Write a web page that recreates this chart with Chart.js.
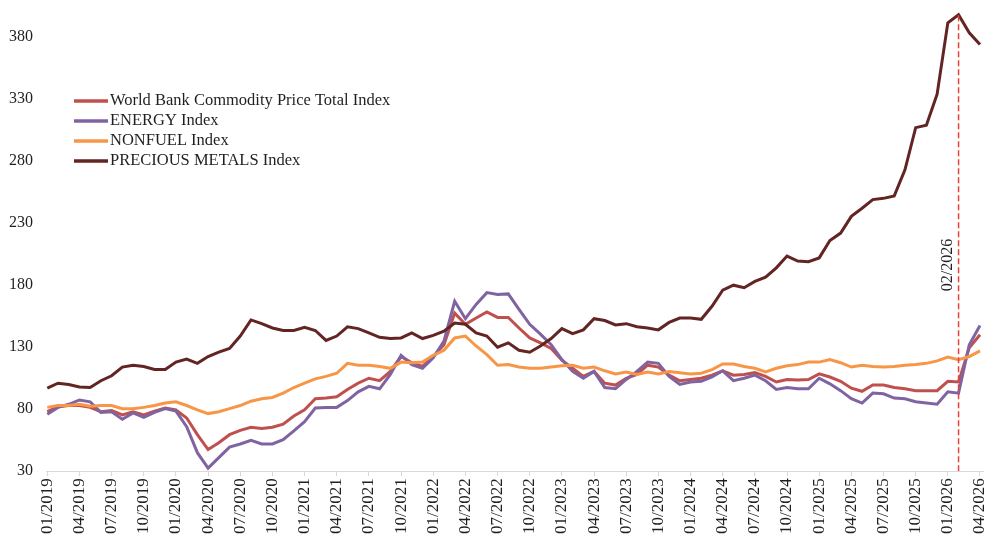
<!DOCTYPE html>
<html lang="en">
<head>
<meta charset="utf-8">
<title>World Bank Commodity Price Indices</title>
<script src="https://cdn.jsdelivr.net/npm/chart.js@4.4.1/dist/chart.umd.min.js"></script>
<style>
    html, body { margin: 0; padding: 0; background: #fff; }
</style>
</head>
<body>
<canvas id="grafico" width="1004" height="547"></canvas>
<script>
// Meses (categorías del eje X)
const meses = [
    "01/2019", "02/2019", "03/2019", "04/2019", "05/2019", "06/2019", "07/2019", "08/2019", "09/2019", "10/2019", "11/2019", "12/2019",
    "01/2020", "02/2020", "03/2020", "04/2020", "05/2020", "06/2020", "07/2020", "08/2020", "09/2020", "10/2020", "11/2020", "12/2020",
    "01/2021", "02/2021", "03/2021", "04/2021", "05/2021", "06/2021", "07/2021", "08/2021", "09/2021", "10/2021", "11/2021", "12/2021",
    "01/2022", "02/2022", "03/2022", "04/2022", "05/2022", "06/2022", "07/2022", "08/2022", "09/2022", "10/2022", "11/2022", "12/2022",
    "01/2023", "02/2023", "03/2023", "04/2023", "05/2023", "06/2023", "07/2023", "08/2023", "09/2023", "10/2023", "11/2023", "12/2023",
    "01/2024", "02/2024", "03/2024", "04/2024", "05/2024", "06/2024", "07/2024", "08/2024", "09/2024", "10/2024", "11/2024", "12/2024",
    "01/2025", "02/2025", "03/2025", "04/2025", "05/2025", "06/2025", "07/2025", "08/2025", "09/2025", "10/2025", "11/2025", "12/2025",
    "01/2026", "02/2026", "03/2026", "04/2026"
];

const indiceTotal = [
    78, 82, 83, 83, 81.5, 78, 79, 75.5, 78, 75.5, 78.5, 81,
    79.5, 73, 59.5, 47.5, 53, 59.5, 63, 65.5, 64.5, 65.5, 68, 74.5,
    79.5, 88.5, 89, 90, 96, 101, 105, 103, 110.5, 122.5, 117.5, 114.5,
    122.5, 132, 157.5, 148.5, 153.5, 158.5, 154, 154, 145.5, 137.5, 133.5, 129,
    119.5, 113, 106.5, 110.5, 101, 99.5, 105, 108, 115.5, 114, 107.5, 103,
    104, 105, 107.5, 111, 107.5, 108, 109.5, 106.5, 102, 104, 103.5, 104,
    108.5, 106, 102.5, 97, 94.5, 99.5, 99.5, 97.5, 96.5, 95, 95, 95,
    102.5, 102, 129.5, 140
];

const indiceEnergia = [
    76, 81.5, 84, 87.5, 86, 77.5, 78, 72, 77, 73.5, 77.5, 80.5,
    78.5, 66, 45, 32.5, 41, 49.5, 52, 55, 52, 52, 55.5, 62.5,
    70, 81, 81.5, 81.5, 87, 94, 98.5, 96.5, 108, 123.5, 116, 113,
    121.5, 135, 167, 153, 164.5, 174, 172.5, 173, 160.5, 148.5, 140.5, 132,
    120, 110.5, 105, 110.5, 97.5, 96.5, 104, 110.5, 118, 117, 106.5, 100,
    102, 102.5, 106, 111, 103, 105, 107.5, 103, 96, 97.5, 96.5, 96.5,
    105, 100.5, 95, 88.5, 85, 93, 92.5, 89, 88.5, 86, 85, 84,
    94, 93, 132, 147.5
];

const indiceNoEnergetico = [
    81.5, 83, 83, 84, 82.5, 83, 83, 80.5, 80.5, 81.5, 83, 85,
    86, 83, 79.5, 76.5, 78, 80.5, 83, 86.5, 88.5, 89.5, 93, 97.5,
    101, 104.5, 106.5, 109, 117, 115.5, 115.5, 114.5, 113, 118, 117.5, 118,
    123.5, 127.5, 137.5, 139, 131, 124, 115.5, 116, 114, 113, 113, 114,
    115, 115.5, 113, 114, 111, 108.5, 110, 108, 110, 108.5, 110.5, 109.5,
    108.5, 109, 112, 116.5, 116.5, 114.5, 113, 110, 113, 115, 116, 118,
    118, 120, 117.5, 114, 115.5, 114.5, 114, 114.5, 115.5, 116, 117, 119,
    122, 120, 122.5, 127
];

const metalesPreciosos = [
    97, 101, 100, 98, 97.5, 103, 107, 114, 115.5, 114.5, 112, 112,
    118, 120.5, 117, 122.5, 126, 129, 139, 152, 149, 145.5, 143.5, 143.5,
    146, 143.5, 135.5, 139, 146.5, 145, 141.5, 138, 137, 137.5, 141.5, 137,
    139.5, 143, 149.5, 148.5, 141.5, 139, 130, 133.5, 127.5, 126, 131, 137,
    145, 141, 144, 153, 151.5, 148, 149, 146.5, 145.5, 144, 150, 153.5,
    153.5, 152.5, 163, 176, 180, 178, 183, 186.5, 194, 203.5, 199.5, 199,
    202, 216, 222, 235.5, 242, 249, 250, 252, 273, 307, 309, 334,
    391.5, 398, 383.5, 374
];

const ticksY = [30, 80, 130, 180, 230, 280, 330, 380];
const mesMarcado = "02/2026";

const fuente = "'Liberation Serif', 'Times New Roman', serif";
const colorTexto = "#1f1f1f";

function aPuntos(valores) {
    return valores.map((v, i) => ({x: i, y: v}));
}

const indiceMarca = meses.indexOf(mesMarcado);

// Leyenda dentro del área del gráfico y etiqueta de la línea vertical
const leyendaInterna = {
    id: "leyendaInterna",
    afterDraw(chart) {
        const ctx = chart.ctx;
        const x0 = 74, y0 = 101, paso = 20;
        ctx.save();
        ctx.font = "16.5px " + fuente;
        ctx.textBaseline = "middle";
        ctx.fillStyle = colorTexto;
        chart.data.datasets.filter(d => d.enLeyenda).forEach((d, i) => {
            const y = y0 + i * paso;
            ctx.strokeStyle = d.borderColor;
            ctx.lineWidth = 3.5;
            ctx.beginPath();
            ctx.moveTo(x0, y);
            ctx.lineTo(x0 + 34, y);
            ctx.stroke();
            ctx.fillText(d.label, x0 + 36, y);
        });

        // Texto vertical junto a la línea punteada
        const px = chart.scales.x.getPixelForValue(indiceMarca);
        ctx.font = "16px " + fuente;
        ctx.translate(px - 11, 265);
        ctx.rotate(-Math.PI / 2);
        ctx.textAlign = "center";
        ctx.fillText(mesMarcado, 0, 0);
        ctx.restore();
    }
};

Chart.defaults.font.family = fuente;
Chart.defaults.font.size = 16;
Chart.defaults.color = colorTexto;

new Chart(document.getElementById("grafico"), {
    type: "line",
    data: {
        datasets: [
            {
                label: "World Bank Commodity Price Total Index",
                data: aPuntos(indiceTotal),
                borderColor: "#C0504D",
                order: 4,
                enLeyenda: true
            },
            {
                label: "ENERGY Index",
                data: aPuntos(indiceEnergia),
                borderColor: "#8064A2",
                order: 3,
                enLeyenda: true
            },
            {
                label: "NONFUEL Index",
                data: aPuntos(indiceNoEnergetico),
                borderColor: "#F79646",
                order: 2,
                enLeyenda: true
            },
            {
                label: "PRECIOUS METALS Index",
                data: aPuntos(metalesPreciosos),
                borderColor: "#632523",
                order: 1,
                enLeyenda: true
            },
            {
                label: mesMarcado,
                data: [
                    {x: indiceMarca, y: ticksY[0]},
                    {x: indiceMarca, y: metalesPreciosos[indiceMarca]}
                ],
                borderColor: "#E8403A",
                borderWidth: 1.5,
                borderDash: [6, 3],
                order: 0,
                enLeyenda: false
            }
        ]
    },
    options: {
        responsive: false,
        animation: false,
        devicePixelRatio: 1,
        layout: {padding: {top: -7, right: 21, bottom: 11, left: 4}},
        elements: {
            line: {borderWidth: 3, tension: 0, fill: false},
            point: {radius: 0}
        },
        plugins: {
            legend: {display: false},
            tooltip: {enabled: false}
        },
        scales: {
            x: {
                type: "linear",
                min: -0.12,
                max: meses.length - 1 + 0.28,
                afterBuildTicks: eje => {
                    eje.ticks = meses.map((m, i) => ({value: i})).filter(t => t.value % 3 === 0);
                },
                ticks: {
                    autoSkip: false,
                    minRotation: 90,
                    maxRotation: 90,
                    padding: 2,
                    font: {size: 17},
                    callback: v => meses[v]
                },
                grid: {drawOnChartArea: false, drawTicks: true, tickLength: 5, color: "#D9D9D9"},
                border: {color: "#D9D9D9", width: 1}
            },
            y: {
                min: 30,
                max: 402,
                afterBuildTicks: eje => {
                    eje.ticks = ticksY.map(v => ({value: v}));
                },
                ticks: {padding: 5, font: {lineHeight: 0.6}},
                grid: {display: false},
                border: {display: false}
            }
        }
    },
    plugins: [leyendaInterna]
});
</script>
</body>
</html>
